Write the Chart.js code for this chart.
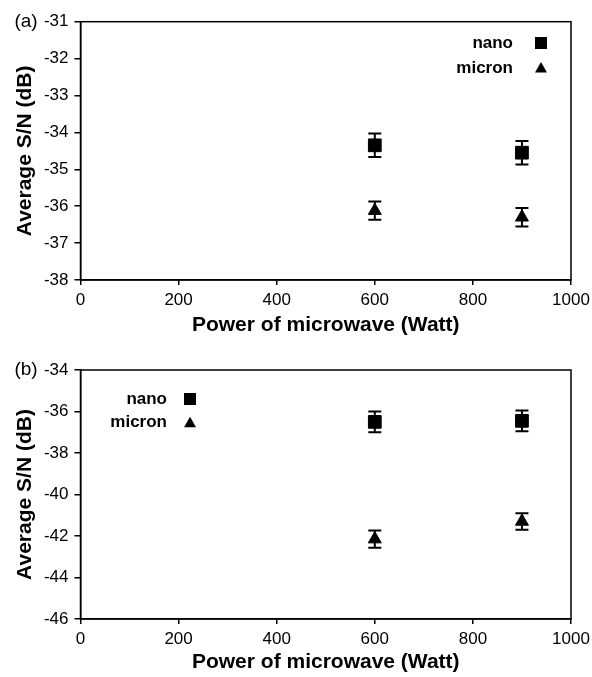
<!DOCTYPE html>
<html><head><meta charset="utf-8">
<script src="https://cdn.jsdelivr.net/npm/chart.js@4.4.1/dist/chart.umd.min.js"></script>
<style>
html,body{margin:0;padding:0;background:#fff;}
#wrap{position:relative;width:592px;height:677px;overflow:hidden;}
.box{position:absolute;left:0;width:592px;}
</style></head><body>
<div id="wrap">
<div class="box" style="top:0;height:340px"><canvas id="ca"></canvas></div>
<div class="box" style="top:340px;height:337px"><canvas id="cb"></canvas></div>
</div>
<script>
// ---- data ----
const powerLevels = [600, 900];
const xTicks = [0, 200, 400, 600, 800, 1000];
const seriesNames = ['nano', 'micron'];
const nanoA = [-34.35, -34.55];
const nanoAErr = [0.32, 0.32];
const micronA = [-36.12, -36.3];
const micronAErr = [0.25, 0.25];
const nanoB = [-36.5, -36.45];
const nanoBErr = [0.5, 0.5];
const micronB = [-42.15, -41.3];
const micronBErr = [0.42, 0.4];
const yTicksA = [-38, -37, -36, -35, -34, -33, -32, -31];
const yTicksB = [-46, -44, -42, -40, -38, -36, -34];
const panelLabels = ['(a)', '(b)'];
const xTitle = 'Power of microwave (Watt)';
const yTitle = 'Average S/N (dB)';

const FONT = "'Liberation Sans', Arial, sans-serif";

const errorBars = {
  id: 'errorBars',
  beforeDatasetsDraw(chart) {
    const ctx = chart.ctx, ys = chart.scales.y, xs = chart.scales.x;
    ctx.save();
    ctx.strokeStyle = '#000';
    ctx.lineWidth = 2;
    chart.data.datasets.forEach(ds => {
      ds.data.forEach((p, i) => {
        const e = ds.errors[i];
        const px = xs.getPixelForValue(p.x);
        const y1 = ys.getPixelForValue(p.y - e), y2 = ys.getPixelForValue(p.y + e);
        ctx.beginPath();
        ctx.moveTo(px, y1); ctx.lineTo(px, y2);
        ctx.moveTo(px - 6.5, y1); ctx.lineTo(px + 6.5, y1);
        ctx.moveTo(px - 6.5, y2); ctx.lineTo(px + 6.5, y2);
        ctx.stroke();
      });
    });
    ctx.restore();
  }
};

const frame = {
  id: 'frame',
  afterDraw(chart, args, opts) {
    const ctx = chart.ctx, a = chart.chartArea;
    ctx.save();
    ctx.strokeStyle = '#000';
    ctx.lineWidth = 1.5;
    ctx.strokeRect(a.left, a.top, a.right - a.left, a.bottom - a.top);
    // panel label
    ctx.fillStyle = '#000';
    ctx.font = '19px ' + FONT;
    ctx.textAlign = 'center';
    ctx.textBaseline = 'middle';
    ctx.fillText(opts.label, opts.labelX, a.top);
    // legend
    ctx.font = 'bold 17px ' + FONT;
    ctx.textAlign = 'right';
    chart.data.datasets.forEach((ds, i) => {
      const y = opts.legendRows[i];
      ctx.fillText(ds.label, opts.legendTextX, y);
      const mx = opts.legendMarkX;
      ctx.beginPath();
      if (ds.pointStyle === 'rect') {
        ctx.rect(mx - 6, y - 6, 12, 12);
      } else {
        ctx.moveTo(mx, y - 6);
        ctx.lineTo(mx + 6, y + 4.5);
        ctx.lineTo(mx - 6, y + 4.5);
        ctx.closePath();
      }
      ctx.fill();
    });
    ctx.restore();
  }
};

function makeChart(id, nano, nanoErr, micron, micronErr, yTicks, label, padTop, xHeight, legend) {
  const axisCommon = {
    grid: { display: true, drawOnChartArea: false, drawTicks: true, color: '#000', lineWidth: 1.5 },
    border: { display: true, color: '#000', width: 1.5 }
  };
  return new Chart(document.getElementById(id), {
    type: 'scatter',
    data: {
      datasets: [
        {
          label: seriesNames[0],
          data: powerLevels.map((x, i) => ({ x: x, y: nano[i] })),
          errors: nanoErr,
          pointStyle: 'rect', pointRadius: 9, pointHoverRadius: 9,
          backgroundColor: '#000', borderColor: '#000', borderWidth: 1
        },
        {
          label: seriesNames[1],
          data: powerLevels.map((x, i) => ({ x: x, y: micron[i] })),
          errors: micronErr,
          pointStyle: 'triangle', pointRadius: 7.5, pointHoverRadius: 7.5,
          backgroundColor: '#000', borderColor: '#000', borderWidth: 1
        }
      ]
    },
    options: {
      responsive: true,
      maintainAspectRatio: false,
      animation: false,
      events: [],
      layout: { padding: { left: 12, top: padTop, right: 21, bottom: 0 } },
      plugins: {
        legend: { display: false },
        tooltip: { enabled: false },
        frame: { label: label, labelX: 26, legendTextX: legend.textX, legendMarkX: legend.markX, legendRows: legend.rows }
      },
      scales: {
        x: {
          type: 'linear', min: 0, max: 1000,
          afterBuildTicks: s => { s.ticks = xTicks.map(v => ({ value: v })); },
          ticks: { font: { family: FONT, size: 17 }, color: '#000', padding: 5, maxRotation: 0, autoSkip: false,
                   callback: v => String(v) },
          grid: Object.assign({}, axisCommon.grid, { tickLength: 5 }),
          border: axisCommon.border,
          title: { display: true, text: xTitle, color: '#000', font: { family: FONT, size: 21, weight: 'bold' }, padding: { top: 0, bottom: 2 } },
          afterFit: s => { s.height = xHeight; s.paddingRight = 0; }
        },
        y: {
          type: 'linear', min: yTicks[0], max: yTicks[yTicks.length - 1],
          afterBuildTicks: s => { s.ticks = yTicks.map(v => ({ value: v })); },
          ticks: { font: { family: FONT, size: 17 }, color: '#000', padding: 6, autoSkip: false,
                   callback: v => String(v) },
          grid: Object.assign({}, axisCommon.grid, { tickLength: 6 }),
          border: axisCommon.border,
          title: { display: true, text: yTitle, color: '#000', font: { family: FONT, size: 21, weight: 'bold' }, padding: { top: 1, bottom: 0 } },
          afterFit: s => { s.width = 68.5; }
        }
      }
    },
    plugins: [errorBars, frame]
  });
}

makeChart('ca', nanoA, nanoAErr, micronA, micronAErr, yTicksA, panelLabels[0], 21.7, 60,
  { textX: 513, markX: 541, rows: [43, 68] });
makeChart('cb', nanoB, nanoBErr, micronB, micronBErr, yTicksB, panelLabels[1], 30, 58,
  { textX: 167, markX: 190, rows: [59, 82.7] });
</script>
</body></html>
